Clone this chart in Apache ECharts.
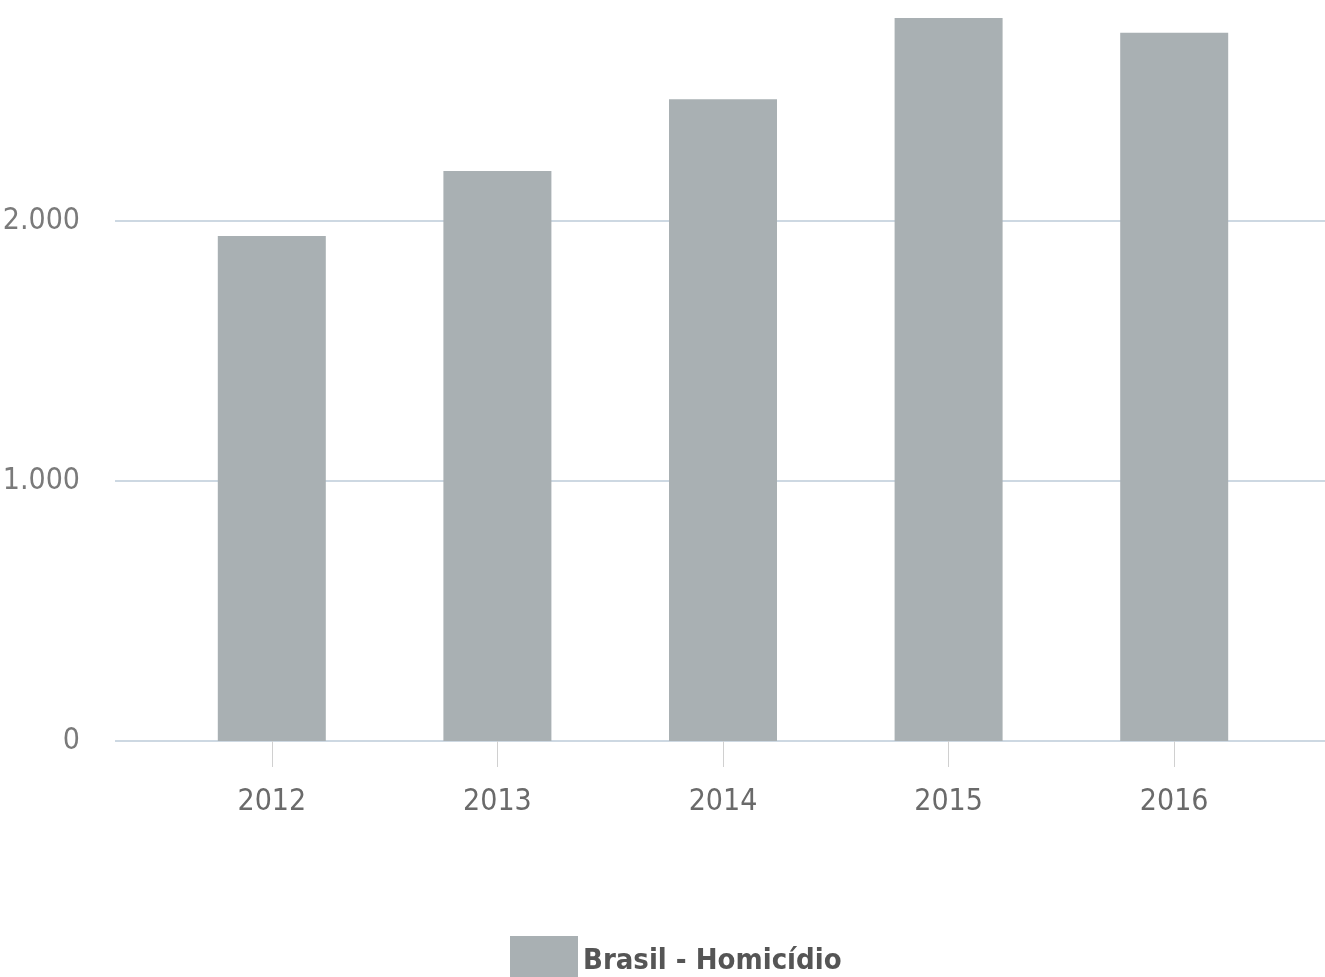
<!DOCTYPE html>
<html><head><meta charset="utf-8">
<script src="https://cdn.jsdelivr.net/npm/echarts@6/dist/echarts.min.js"></script>
<style>html,body{margin:0;padding:0;background:#fff;}#c{width:1325px;height:977px;}</style>
</head><body><div id="c"></div>
<script>
const categories = ['2012','2013','2014','2015','2016'];
const seriesName = 'Brasil - Homicídio';
const values = [1942, 2192, 2468, 2781, 2724];
const yTicks = [0, 1000, 2000, 3000];

const FONT = '"DejaVu Sans Condensed","Liberation Sans Narrow","Open Sans",sans-serif';
const chart = echarts.init(document.getElementById('c'));
const fmt = v => v === 0 ? '0' : (v/1000).toFixed(0) + '.000';
chart.setOption({
  animation: false,
  backgroundColor: '#ffffff',
  legend: {
    data: [{ name: seriesName, icon: 'rect' }], bottom: -14, left: 505,
    itemWidth: 68, itemHeight: 50, itemGap: 10,
    textStyle: { fontFamily: FONT, fontSize: 29, fontWeight: 'bold', color: '#555' }
  },
  grid: [
    { left: 115, right: 0, top: -39, bottom: 236, outerBoundsMode: 'none', containLabel: false },
    { left: 159, right: 38, top: -39, bottom: 236, outerBoundsMode: 'none', containLabel: false }
  ],
  xAxis: [
    { gridIndex: 0, type: 'value', min: 0, max: 1, show: false },
    { gridIndex: 1, type: 'category', data: categories,
      axisLine: { show: false },
      axisTick: { show: true, alignWithLabel: true, length: 26, lineStyle: { color: '#d0d0d0', width: 1 } },
      axisLabel: { margin: 46, fontFamily: FONT, fontSize: 30, color: '#6a6a6a' } }
  ],
  yAxis: [
    { gridIndex: 0, type: 'value', min: 0, max: 3000, interval: 1000,
      axisLine: { show: false }, axisTick: { show: false },
      axisLabel: { margin: 35, fontFamily: FONT, fontSize: 30, color: '#7a7a7a', formatter: fmt },
      splitLine: { lineStyle: { color: '#bccbd8', width: 1.5 } } },
    { gridIndex: 1, type: 'value', min: 0, max: 3000, interval: 1000, show: false, splitLine: { show: false } }
  ],
  series: [{
    name: seriesName, type: 'bar', xAxisIndex: 1, yAxisIndex: 1,
    data: values, barWidth: 108,
    itemStyle: { color: '#a9b0b3' }
  }]
});
</script></body></html>
